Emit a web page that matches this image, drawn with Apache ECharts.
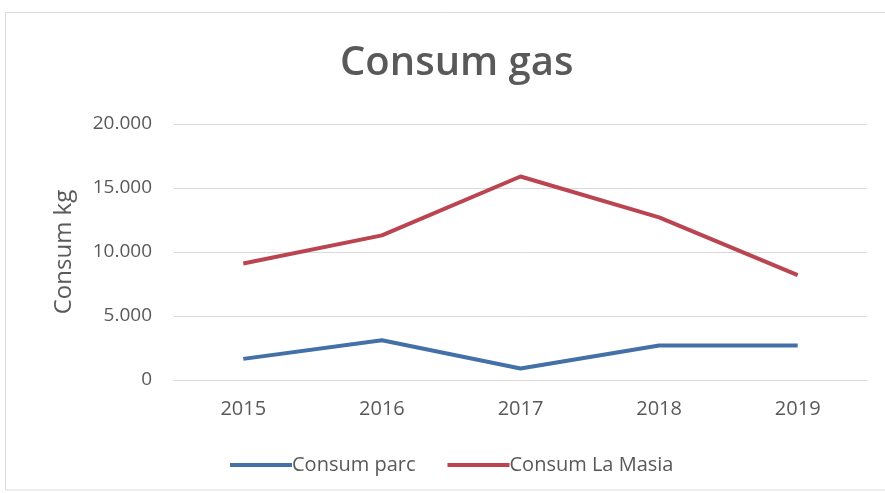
<!DOCTYPE html>
<html>
<head>
<meta charset="utf-8">
<style>
  html, body { margin: 0; padding: 0; background: #fff; }
  #chart { width: 885px; height: 493px; }
</style>
<script src="https://cdn.jsdelivr.net/npm/echarts@6/dist/echarts.min.js"></script>
</head>
<body>
<div id="chart"></div>
<script>
// Yearly gas consumption (kg)
const years = ['2015', '2016', '2017', '2018', '2019'];
const consumParc = [1650, 3100, 900, 2700, 2700];
const consumLaMasia = [9100, 11300, 15900, 12700, 8200];
const seriesNames = ['Consum parc', 'Consum La Masia'];

const textColor = '#595959';
const font = '"Open Sans", "Noto Sans", sans-serif';

function fmtThousands(v) {
  return String(v).replace(/\B(?=(\d{3})+(?!\d))/g, '.');
}

const chart = echarts.init(document.getElementById('chart'));
chart.setOption({
  animation: false,
  backgroundColor: '#fff',
  graphic: [{
    type: 'rect',
    shape: { x: 5.5, y: 12.5, width: 885, height: 477.5 },
    style: { fill: 'none', stroke: '#d9d9d9', lineWidth: 1 },
    silent: true
  }],
  title: {
    text: 'Consum gas',
    left: 335,
    top: 39,
    textStyle: { fontFamily: font, fontSize: 40, fontWeight: 600, color: textColor }
  },
  legend: {
    data: seriesNames,
    top: 450,
    left: 225,
    itemWidth: 62,
    itemHeight: 4,
    itemGap: 32,
    icon: 'rect',
    textStyle: { fontFamily: font, fontSize: 20, color: textColor, padding: [0, 0, 0, -5] }
  },
  grid: { left: 174, right: 18, top: 124, bottom: 113, containLabel: false },
  xAxis: {
    type: 'category',
    data: years,
    boundaryGap: true,
    axisLine: { show: true, lineStyle: { color: '#d9d9d9', width: 1 } },
    axisTick: { show: false },
    axisLabel: { fontFamily: font, fontSize: 20, color: textColor, margin: 19 }
  },
  yAxis: {
    type: 'value',
    min: 0,
    max: 20000,
    interval: 5000,
    name: 'Consum kg',
    nameLocation: 'middle',
    nameGap: 98,
    nameTextStyle: { fontFamily: font, fontSize: 24, color: textColor },
    axisLine: { show: false },
    axisTick: { show: false },
    splitLine: { lineStyle: { color: '#d9d9d9', width: 1 } },
    axisLabel: {
      fontFamily: font, fontSize: 19, color: textColor, margin: 22,
      formatter: fmtThousands
    }
  },
  series: [
    {
      name: seriesNames[0],
      type: 'line',
      data: consumParc,
      symbol: 'none',
      color: '#4470a8',
      lineStyle: { width: 4, color: '#4470a8' }
    },
    {
      name: seriesNames[1],
      type: 'line',
      data: consumLaMasia,
      symbol: 'none',
      color: '#bb4451',
      lineStyle: { width: 4, color: '#bb4451' }
    }
  ]
});
</script>
</body>
</html>
